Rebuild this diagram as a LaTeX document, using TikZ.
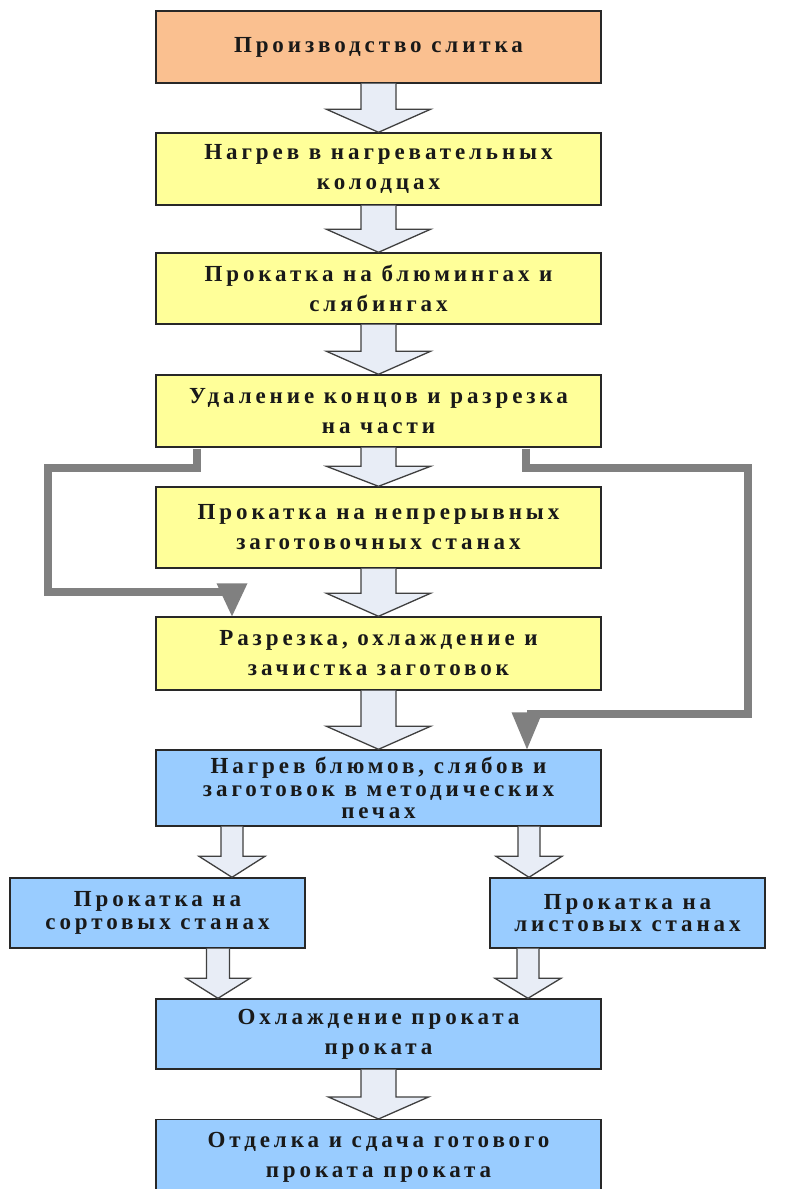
\documentclass[tikz,border=0pt]{standalone}
\usepackage{fontspec}
\usetikzlibrary{calc}
\newfontfamily\bxf{Liberation Serif}[LetterSpace=17]
\definecolor{cOrange}{RGB}{250,192,144}
\definecolor{cYellow}{RGB}{255,255,153}
\definecolor{cBlue}{RGB}{153,204,255}
\definecolor{cArrow}{RGB}{232,237,246}
\definecolor{cLine}{RGB}{128,128,128}
\definecolor{cBorder}{RGB}{40,40,40}
\tikzset{
  box/.style={draw=cBorder, line width=1.4pt, align=center, inner sep=0pt,
     font=\bxf\bfseries\fontsize{23}{30}\selectfont, text=black!90},
  tight/.style={font=\bxf\bfseries\fontsize{23}{22.5}\selectfont},
  boxo/.style={box, fill=cOrange},
  boxy/.style={box, fill=cYellow},
  boxb/.style={box, fill=cBlue},
  arrowshape/.style={draw=black!75, fill=cArrow, line width=1.3pt, line join=miter},
  grayline/.style={draw=cLine, line width=8pt, line join=miter},
  grayhead/.style={fill=cLine},
}
% #1 from point, #2 to point, #3 stem half width, #4 head half width, #5 head length
\newcommand\blkarrow[5]{%
  \filldraw[arrowshape] let \p1=(#1), \p2=(#2) in
    (\x2-#3pt,\y1) -- (\x2-#3pt,\y2+#5pt) -- (\x2-#4pt,\y2+#5pt) -- (\x2,\y2)
    -- (\x2+#4pt,\y2+#5pt) -- (\x2+#3pt,\y2+#5pt) -- (\x2+#3pt,\y1);
}
\begin{document}
\begin{tikzpicture}[x=1pt,y=-1pt]
\useasboundingbox (0,0) rectangle (796,1189);
\fill[white] (0,0) rectangle (796,1189);

\node[boxo, minimum width=445pt, minimum height=72pt] (b1) at (378.5,47) {Производство слитка};
\node[boxy, minimum width=445pt, minimum height=72pt] (b2) at (378.5,169) {Нагрев в нагревательных\\колодцах};
\node[boxy, minimum width=445pt, minimum height=71pt] (b3) at (378.5,288.5) {Прокатка на блюмингах и\\слябингах};
\node[boxy, minimum width=445pt, minimum height=72pt] (b4) at (378.5,411) {Удаление концов и разрезка\\на части};
\node[boxy, minimum width=445pt, minimum height=81pt] (b5) at (378.5,527.5) {Прокатка на непрерывных\\заготовочных станах};
\node[boxy, minimum width=445pt, minimum height=73pt] (b6) at (378.5,653.5) {Разрезка, охлаждение и\\зачистка заготовок};
\node[boxb, tight, minimum width=445pt, minimum height=76pt] (b7) at (378.5,788) {Нагрев блюмов, слябов и\\заготовок в методических\\печах};
\node[boxb, tight, minimum width=295pt, minimum height=70pt] (b8) at (157.5,913) {Прокатка на\\сортовых станах};
\node[boxb, tight, minimum width=275pt, minimum height=70pt] (b9) at (627.5,913) {Прокатка на\\листовых станах};
\node[boxb, minimum width=445pt, minimum height=70pt] (b10) at (378.5,1034) {Охлаждение проката\\проката};
\node[boxb, minimum width=445pt, minimum height=76pt, anchor=north] (b11) at (378.5,1119) {Отделка и сдача готового\\проката проката};

% main block arrows
\blkarrow{b1.south}{b2.north}{17.5}{52}{23}
\blkarrow{b2.south}{b3.north}{17.5}{52}{23}
\blkarrow{b3.south}{b4.north}{17.5}{52}{23}
\blkarrow{b4.south}{b5.north}{17.5}{52}{20}
\blkarrow{b5.south}{b6.north}{17.5}{52}{23}
\blkarrow{b6.south}{b7.north}{17.5}{52}{23}
\blkarrow{b10.south}{b11.north}{17.5}{50}{22}

% branch arrows
\path (b7.south) ++(-146.5,0) coordinate (s7l);
\path (b7.south) ++(150.5,0) coordinate (s7r);
\path (b8.south) ++(60.5,0) coordinate (s8);
\path (b9.south) ++(-99.5,0) coordinate (s9);
\blkarrow{s7l}{s7l |- b8.north}{11}{33}{21}
\blkarrow{s7r}{s7r |- b9.north}{11}{33}{21}
\blkarrow{s8}{s8 |- b10.north}{11.5}{32}{20}
\blkarrow{s9}{s9 |- b10.north}{11}{33}{20}

% gray bypass connectors
\path (b4.south) ++(-181.5,0) coordinate (gl0);
\coordinate (gl1) at (48,468);
\coordinate (gl2) at (232,592);
\path (gl2 |- b6.north) coordinate (gl3);
\draw[grayline] ([yshift=-1pt]gl0) -- (gl0 |- gl1) -- (gl1) |- (gl2);
\fill[grayhead] (gl3) -- ++(-15.5,-33) -- ++(31,0) -- cycle;

\path (b4.south) ++(147.5,0) coordinate (gr0);
\coordinate (gr1) at (748,468);
\coordinate (gr2) at (527,714);
\path (gr2 |- b7.north) coordinate (gr3);
\draw[grayline] ([yshift=-1pt]gr0) -- (gr0 |- gr1) -- (gr1) |- (gr2);
\fill[grayhead] (gr3) -- ++(-15.5,-37) -- ++(31,0) -- cycle;
\end{tikzpicture}
\end{document}
